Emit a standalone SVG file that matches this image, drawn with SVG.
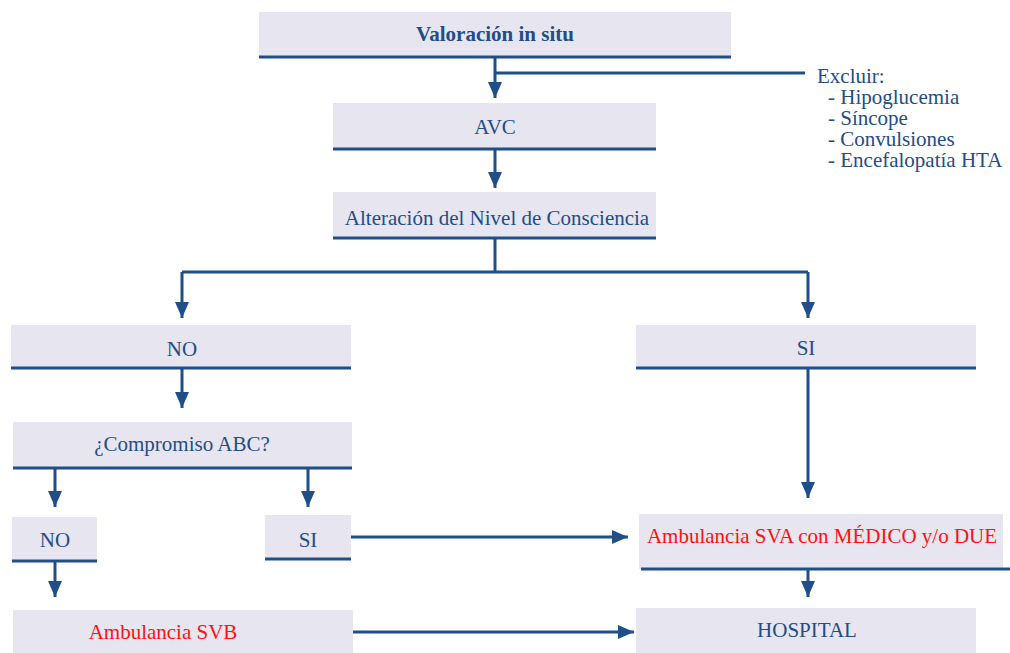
<svg xmlns="http://www.w3.org/2000/svg" width="1010" height="653" viewBox="0 0 1010 653">
<style>
.box{fill:#e7e6f0}
.bl{stroke:#1f4e89;stroke-width:3;fill:none}
.c{stroke:#1f4e89;stroke-width:3;fill:none}
.ca{stroke:#1f4e89;stroke-width:3;fill:none;marker-end:url(#ah)}
.t{font-size:21px;fill:#244c86;text-anchor:middle}
.r{fill:#ff1010}
.b{font-weight:bold}
.ex{font-size:21px;fill:#244c86}
</style>
<defs>
<marker id="ah" markerUnits="userSpaceOnUse" markerWidth="16" markerHeight="14" refX="16" refY="7" orient="auto">
<path d="M0,0 L16,7 L0,14 Z" fill="#1f4e89"/>
</marker>
</defs>
<g id="connectors">
<line class="ca" x1="495" y1="57" x2="495" y2="98"/>
<line class="c" x1="495" y1="73" x2="805" y2="73"/>
<line class="ca" x1="495" y1="149" x2="495" y2="188"/>
<polyline class="c" points="495,238 495,272"/>
<polyline class="ca" points="182,272 182,318" />
<line class="c" x1="182" y1="272" x2="808" y2="272"/>
<polyline class="ca" points="808,272 808,318"/>
<line class="ca" x1="182" y1="368" x2="182" y2="408"/>
<line class="ca" x1="55" y1="468" x2="55" y2="507"/>
<line class="ca" x1="308" y1="468" x2="308" y2="507"/>
<line class="ca" x1="55" y1="561" x2="55" y2="597"/>
<line class="ca" x1="808" y1="368" x2="808" y2="498"/>
<line class="ca" x1="351" y1="537" x2="628" y2="537"/>
<line class="ca" x1="808" y1="569" x2="808" y2="597"/>
<line class="ca" x1="353" y1="632" x2="634" y2="632"/>
</g>
<g font-family="Liberation Serif, Times New Roman, serif">
<g id="n1">
<rect class="box" x="259" y="12" width="472" height="45"/>
<line class="bl" x1="259" y1="57" x2="731" y2="57"/>
<text class="t b" x="495" y="41">Valoración in situ</text>
</g>
<g id="n-excluir">
<text class="ex" x="817" y="83">Excluir:</text>
<text class="ex" x="828" y="104">- Hipoglucemia</text>
<text class="ex" x="828" y="125">- Síncope</text>
<text class="ex" x="828" y="146">- Convulsiones</text>
<text class="ex" x="828" y="167">- Encefalopatía HTA</text>
</g>
<g id="n2">
<rect class="box" x="333" y="103" width="323" height="46"/>
<line class="bl" x1="333" y1="149" x2="656" y2="149"/>
<text class="t" x="495" y="134">AVC</text>
</g>
<g id="n3">
<rect class="box" x="333" y="192" width="323" height="46"/>
<line class="bl" x1="333" y1="238" x2="656" y2="238"/>
<text class="t" x="497" y="225">Alteración del Nivel de Consciencia</text>
</g>
<g id="n4">
<rect class="box" x="11" y="325" width="340" height="43"/>
<line class="bl" x1="11" y1="368" x2="351" y2="368"/>
<text class="t" x="182" y="356">NO</text>
</g>
<g id="n5">
<rect class="box" x="636" y="325" width="340" height="43"/>
<line class="bl" x1="636" y1="368" x2="976" y2="368"/>
<text class="t" x="806" y="355">SI</text>
</g>
<g id="n6">
<rect class="box" x="13" y="422" width="339" height="46"/>
<line class="bl" x1="13" y1="468" x2="352" y2="468"/>
<text class="t" x="182" y="451">¿Compromiso ABC?</text>
</g>
<g id="n7">
<rect class="box" x="12" y="517" width="85" height="44"/>
<line class="bl" x1="12" y1="561" x2="97" y2="561"/>
<text class="t" x="55" y="547">NO</text>
</g>
<g id="n8">
<rect class="box" x="265" y="515" width="86" height="44"/>
<line class="bl" x1="265" y1="559" x2="351" y2="559"/>
<text class="t" x="308" y="547">SI</text>
</g>
<g id="n9">
<rect class="box" x="639" y="514" width="364" height="55"/>
<line class="bl" x1="641" y1="569" x2="1010" y2="569"/>
<text class="t r" x="822" y="543" font-size="21.5">Ambulancia SVA con MÉDICO y/o DUE</text>
</g>
<g id="n10">
<rect class="box" x="13" y="610" width="340" height="43"/>
<text class="t r" x="163" y="639">Ambulancia SVB</text>
</g>
<g id="n11">
<rect class="box" x="636" y="608" width="340" height="45"/>
<text class="t" x="807" y="637">HOSPITAL</text>
</g>
</g>
</svg>
